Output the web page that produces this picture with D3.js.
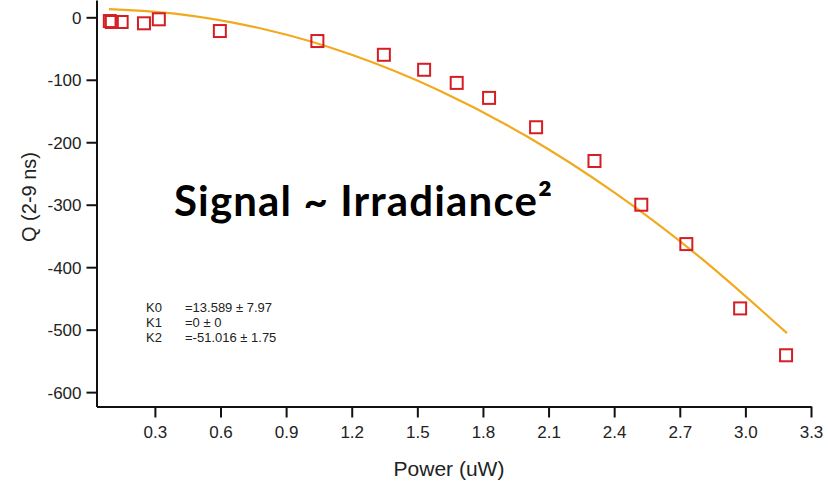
<!DOCTYPE html>
<html>
<head>
<meta charset="utf-8">
<script src="https://cdn.jsdelivr.net/npm/d3@7"></script>
<style>
  body { margin: 0; background: #fff; }
  svg { display: block; font-family: Arial, "Liberation Sans", sans-serif; }
</style>
</head>
<body>
<svg id="chart" width="828" height="486"></svg>
<script>
// measured points
const powerVals = [0.094, 0.103, 0.148, 0.25, 0.318, 0.597, 1.043, 1.347, 1.531, 1.68, 1.828, 2.043, 2.31, 2.524, 2.73, 2.976, 3.186];
const qVals = [-6, -7.5, -7.5, -9.6, -3.2, -22, -38, -60, -84, -105, -129, -176, -230, -300, -363, -466, -541];

// fit curve
const fitPower = [0.09, 0.4, 0.8, 1.2, 1.6, 2.0, 2.4, 2.8, 3.19];
const fitQ = [13.2, 5.4, -19.1, -59.9, -117.0, -190.5, -280.3, -386.4, -505.6];

const xTicks = [0.3, 0.6, 0.9, 1.2, 1.5, 1.8, 2.1, 2.4, 2.7, 3.0, 3.3];
const yTicks = [0, -100, -200, -300, -400, -500, -600];
const fitLabels = ["K0", "K1", "K2"];
const fitValues = ["=13.589 \u00b1 7.97", "=0 \u00b1 0", "=-51.016 \u00b1 1.75"];

const svg = d3.select("#chart");
const plotLeft = 96.5, plotRight = 811, plotTop = 0, plotBottom = 406.5;

// scales
const x = d3.scaleLinear().domain([0.033, 3.3]).range([plotLeft, plotRight]);
const y = d3.scaleLinear().domain([-623, 27.7]).range([plotBottom, plotTop]);

// axes
const xAxis = svg.append("g")
  .attr("transform", `translate(0,${plotBottom})`)
  .call(d3.axisBottom(x).tickValues(xTicks).tickFormat(d3.format(".1f")).tickSize(11).tickPadding(8).tickSizeOuter(0));
const yAxis = svg.append("g")
  .attr("transform", `translate(${plotLeft},0)`)
  .call(d3.axisLeft(y).tickValues(yTicks).tickFormat(d => String(d)).tickSize(10).tickPadding(5).tickSizeOuter(0));

[xAxis, yAxis].forEach(g => {
  g.select(".domain").attr("stroke", "#111").attr("stroke-width", 2);
  g.selectAll(".tick line").attr("stroke", "#111").attr("stroke-width", 2);
  g.selectAll(".tick text").attr("fill", "#222").style("font-size", "17px");
});
yAxis.selectAll(".tick text").attr("dy", "0.36em");

// axis titles
svg.append("text")
  .attr("x", 449).attr("y", 476)
  .attr("text-anchor", "middle")
  .style("font-size", "21px").attr("fill", "#222")
  .text("Power (uW)");

svg.append("text")
  .attr("transform", "translate(36,197) rotate(-90)")
  .attr("text-anchor", "middle")
  .style("font-size", "20px").attr("fill", "#222")
  .text("Q (2-9 ns)");

// fit curve
const line = d3.line()
  .x((d, i) => x(fitPower[i]))
  .y(d => y(d))
  .curve(d3.curveNatural);

svg.append("path")
  .datum(fitQ)
  .attr("fill", "none")
  .attr("stroke", "#f2a91e")
  .attr("stroke-width", 2.2)
  .attr("d", line);

// data markers
const size = 12;
svg.append("g")
  .selectAll("rect")
  .data(qVals)
  .join("rect")
  .attr("x", (d, i) => x(powerVals[i]) - size / 2)
  .attr("y", d => y(d) - size / 2)
  .attr("width", size)
  .attr("height", size)
  .attr("fill", "none")
  .attr("stroke", "#d41e24")
  .attr("stroke-width", 2);

// fit parameter box
const info = svg.append("g").style("font-size", "13px").attr("fill", "#222");
fitLabels.forEach((k, i) => {
  info.append("text").attr("x", 146).attr("y", 312 + i * 15).text(k);
  info.append("text").attr("x", 185).attr("y", 312 + i * 15).text(fitValues[i]);
});

// big annotation
svg.append("text")
  .attr("x", 174).attr("y", 216)
  .style("font-family", "Lato, 'Open Sans', sans-serif")
  .style("font-weight", "bold")
  .style("font-size", "42px")
  .attr("fill", "#000")
  .attr("textLength", 378)
  .attr("lengthAdjust", "spacing")
  .text("Signal ~ Irradiance\u00b2");
</script>
</body>
</html>
